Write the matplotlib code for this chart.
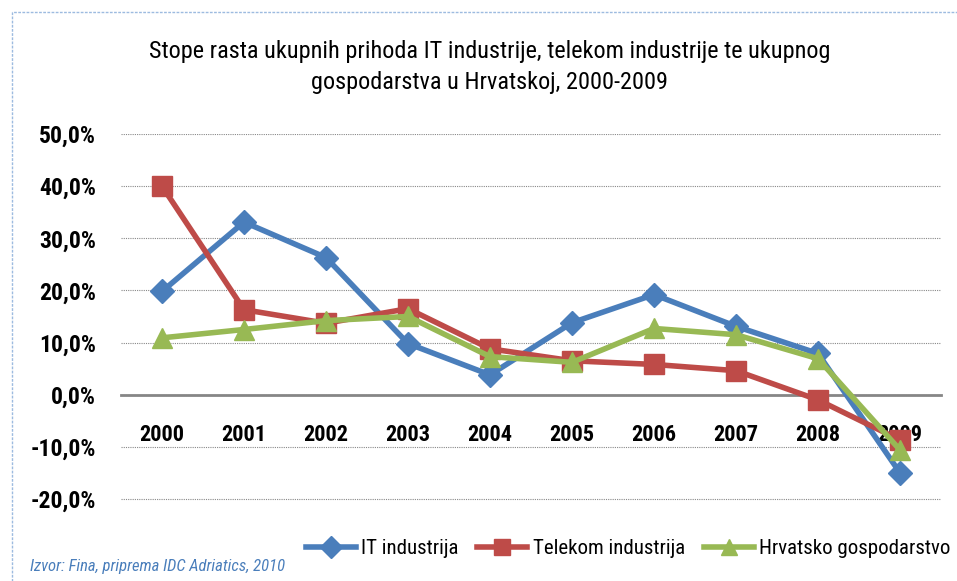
import matplotlib.pyplot as plt
from matplotlib.lines import Line2D
from matplotlib.patches import Rectangle
from matplotlib.ticker import FuncFormatter

years = ["2000", "2001", "2002", "2003", "2004", "2005", "2006", "2007", "2008", "2009"]
it_industrija = [19.8, 33.1, 26.3, 9.8, 3.8, 13.8, 19.2, 13.1, 7.9, -15.0]
telekom_industrija = [40.0, 16.3, 13.7, 16.5, 8.8, 6.5, 5.8, 4.6, -1.0, -8.7]
hrvatsko_gospodarstvo = [10.9, 12.5, 14.2, 15.0, 7.3, 6.2, 12.7, 11.5, 6.9, -10.6]
series_names = ["IT industrija", "Telekom industrija", "Hrvatsko gospodarstvo"]

title = "Stope rasta ukupnih prihoda IT industrije, telekom industrije te ukupnog\ngospodarstva u Hrvatskoj, 2000-2009"
source = "Izvor: Fina, priprema IDC Adriatics, 2010"

plt.rcParams["font.family"] = ["Roboto Condensed", "DejaVu Sans"]

fig = plt.figure(figsize=(9.57, 5.81), dpi=100)
ax = fig.add_axes([121 / 957, 1 - 525 / 581, 820 / 957, (525 - 134) / 581])

x = list(range(len(years)))
ax.plot(x, it_industrija, color="#4A7EBB", lw=4, marker="D", ms=12, label=series_names[0], zorder=3)
ax.plot(x, telekom_industrija, color="#BE4B48", lw=4, marker="s", ms=15, label=series_names[1], zorder=4)
ax.plot(x, hrvatsko_gospodarstvo, color="#98B954", lw=4, marker="^", ms=15, label=series_names[2], zorder=5)

ax.set_xlim(-0.5, len(years) - 0.5)
ax.set_ylim(-25, 50)
ax.set_yticks([-20, -10, 0, 10, 20, 30, 40, 50])
ax.yaxis.set_major_formatter(FuncFormatter(lambda v, p: f"{v:.1f}%".replace(".", ",")))
ax.set_xticks(x)
ax.set_xticklabels(years)
ax.grid(axis="y", color="#888888", ls=(0, (1, 1)), lw=0.8)
ax.set_axisbelow(True)

for s in ["top", "right", "left"]:
    ax.spines[s].set_visible(False)
ax.spines["bottom"].set_position(("data", 0))
ax.spines["bottom"].set_color("#868686")
ax.spines["bottom"].set_linewidth(2)
ax.tick_params(axis="x", length=0, labelsize=16, pad=21)
ax.tick_params(axis="y", length=0, labelsize=17, pad=18)
for lbl in ax.get_xticklabels() + ax.get_yticklabels():
    lbl.set_fontweight("bold")

fig.text(490 / 957, 1 - 67 / 581, title, ha="center", va="center", fontsize=17.5, linespacing=1.45)

handles = [Line2D([], [], color="#4A7EBB", lw=4, marker="D", ms=11),
           Line2D([], [], color="#BE4B48", lw=4, marker="s", ms=12),
           Line2D([], [], color="#98B954", lw=4, marker="^", ms=12)]
leg = fig.legend(handles, series_names, loc="center", bbox_to_anchor=(628 / 957, 1 - 549 / 581),
                 ncol=3, frameon=False, fontsize=15, handlelength=2.4, columnspacing=0.9,
                 handletextpad=0.25)

fig.text(30 / 957, 1 - 567 / 581, source, fontsize=12, style="italic", color="#4A7EBB",
         ha="left", va="center")

# chart border
fig.patches.append(Rectangle((12 / 957, -0.01), 1.0, 1 - 12 / 581 + 0.01, transform=fig.transFigure,
                             fill=False, ec="#9DBBE0", lw=1, ls=(0, (2, 1))))

fig.savefig("out.png", dpi=100)
